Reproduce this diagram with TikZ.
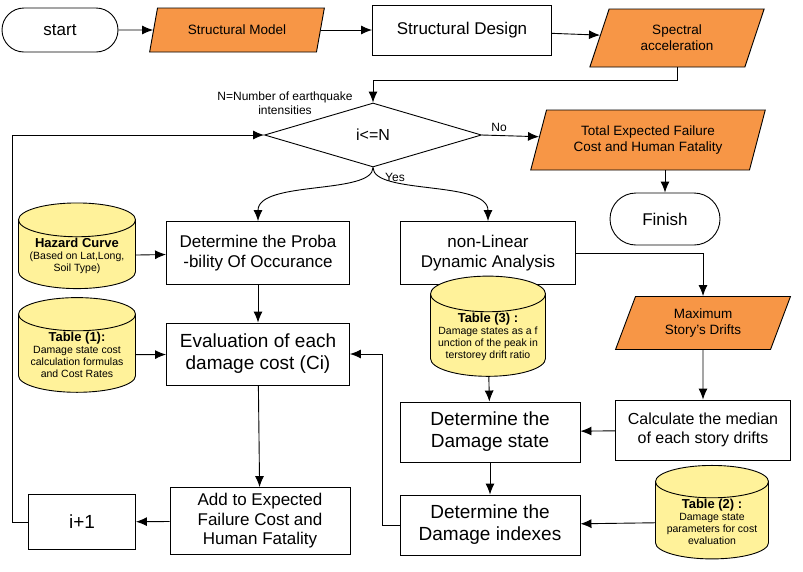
\documentclass[tikz,border=0pt]{standalone}
\usepackage{fontspec}
\setmainfont{Liberation Sans}
\usetikzlibrary{shapes.geometric,arrows.meta}
\definecolor{org}{HTML}{F79646}
\definecolor{cyl}{HTML}{FFF29A}
\newcommand{\cylhead}[1]{{\fontsize{13}{15}\selectfont\textbf{#1}}}
\begin{document}
\begin{tikzpicture}[x=1pt,y=-1pt,
 every path/.style={line width=0.9pt},
 box/.style={draw,minimum width=#1,inner sep=2pt,align=center,font=\fontsize{17}{19.5}\selectfont},
 para/.style={draw,fill=org,trapezium,trapezium stretches=true,trapezium left angle=70,trapezium right angle=110,align=center,font=\fontsize{13.5}{16}\selectfont,inner sep=2pt},
 term/.style={draw,rounded corners=22pt,minimum height=44pt,font=\fontsize{17}{19}\selectfont},
 cyln/.style={draw,fill=cyl,cylinder,shape border rotate=90,aspect=0.35,align=center,font=\fontsize{10.5}{12}\selectfont,inner sep=1pt},
 arr/.style={-{Latex[length=11pt,width=9pt]}}]
\useasboundingbox (0,0) rectangle (803,571);
\node[term,minimum width=116pt] (start) at (60,30) {start};
\node[para,minimum width=175pt,minimum height=44pt] (sm) at (237,30) {Structural Model};
\node[box=179pt,minimum height=50pt] (sd) at (462,30) {Structural Design};
\node[para,minimum width=175pt,minimum height=58pt] (sa) at (677,38) {Spectral\\acceleration};
\node[draw,diamond,aspect=3.4,minimum width=217pt,minimum height=64pt,inner sep=0pt,font=\fontsize{16}{18}\selectfont] (dia) at (373,135) {i<=N};
\node[font=\fontsize{12}{14}\selectfont,align=center] (nlab) at (285,103) {N=Number of earthquake\\intensities};
\node[para,minimum width=235pt,minimum height=60pt] (tot) at (648,140) {Total Expected Failure\\Cost and Human Fatality};
\node[term,minimum width=110pt,minimum height=52pt,rounded corners=26pt] (fin) at (665,219) {Finish};
\node[box=183pt,minimum height=63pt] (prob) at (258,253) {Determine the Proba\\-bility Of Occurance};
\node[cyln,minimum width=117pt,minimum height=83pt] (haz) at (77,256) {\cylhead{Hazard Curve}\\(Based on Lat,Long,\\Soil Type)};
\node[box=183pt,minimum height=62pt,font=\fontsize{19}{22}\selectfont] (eval) at (258,354) {Evaluation of each\\damage cost (Ci)};
\node[cyln,minimum width=117pt,minimum height=90pt] (t1) at (77,355) {\cylhead{Table (1):}\\Damage state cost\\calculation formulas\\and Cost Rates};
\node[box=180pt,minimum height=67pt] (add) at (260,521) {Add to Expected\\Failure Cost and\\Human Fatality};
\node[box=107pt,minimum height=55pt,font=\fontsize{19}{22}\selectfont] (ip1) at (82,522) {i+1};
\node[box=175pt,minimum height=63pt] (nl) at (488,253) {non-Linear\\Dynamic Analysis};
\node[para,minimum width=175pt,minimum height=53pt] (max) at (703,323) {Maximum\\Story's Drifts};
\node[cyln,minimum width=115pt,minimum height=95pt] (t3) at (488,337) {\cylhead{Table (3) :}\\Damage states as a f\\unction of the peak in\\terstorey drift ratio};
\node[box=175pt,minimum height=60pt,font=\fontsize{16}{19}\selectfont] (calc) at (703,430) {Calculate the median\\of each story drifts};
\node[box=180pt,minimum height=60pt,font=\fontsize{19}{22}\selectfont] (ds) at (490,432) {Determine the\\Damage state};
\node[box=180pt,minimum height=60pt,font=\fontsize{19}{22}\selectfont] (di) at (490,525) {Determine the\\Damage indexes};
\node[cyln,minimum width=113pt,minimum height=87pt] (t2) at (712,522) {\cylhead{Table (2) :}\\Damage state\\parameters for cost\\evaluation};
\draw[arr] (start) -- (sm);
\draw[arr] (sm) -- (sd);
\draw[arr] (sd) -- (sa);
\draw[arr] (sa.south) |- (373,80) -- (dia.north);
\draw[arr] (dia.east) -- node[above,pos=0.3,font=\fontsize{12}{14}\selectfont]{No} (tot);
\draw[arr] (tot.south -| fin) -- (fin);
\node[font=\fontsize{12}{14}\selectfont] (yes) at (395,177) {Yes};
\draw[arr] (dia.south) .. controls (373,195) and (258,180) .. (prob.north);
\draw[arr] (dia.south) .. controls (373,195) and (488,180) .. (nl.north);
\draw[arr] (haz) -- (prob);
\draw[arr] (prob) -- (eval);
\draw[arr] (t1) -- (eval);
\draw[arr] (eval) -- (add);
\draw[arr] (add) -- (ip1);
\draw[arr] (ip1.west) -- (12,522) |- (dia.west);
\draw[arr] (nl.east) -| (max.north);
\draw[arr] (max) -- (calc);
\draw[arr] (calc) -- (ds);
\draw[arr] (t3) -- (ds);
\draw[arr] (ds) -- (di);
\draw[arr] (t2) -- (di);
\draw[arr] (di.west) -- (382,525) |- (eval.east);
\end{tikzpicture}
\end{document}
